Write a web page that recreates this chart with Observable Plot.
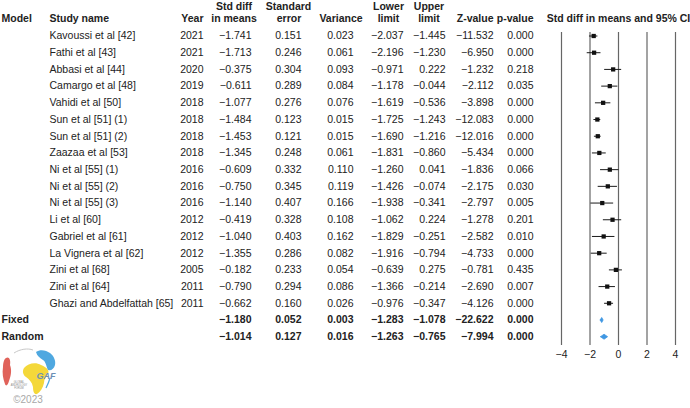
<!DOCTYPE html>
<html>
<head>
<meta charset="utf-8">
<script src="https://cdn.jsdelivr.net/npm/d3@7"></script>
<script src="https://cdn.jsdelivr.net/npm/@observablehq/plot@0.6"></script>
<style>
  html, body { margin: 0; padding: 0; background: #fff; }
  #wrap { position: relative; width: 690px; height: 408px; overflow: hidden; font-family: "Liberation Sans", Arial, sans-serif; }
  #logo { position: absolute; left: 0; top: 346px; }
</style>
</head>
<body>
<div id="wrap">
  <div id="chart"></div>
  <svg id="logo" width="62" height="60" viewBox="0 0 62 60">
    <path d="M6,12 C9,10 11,14 10,19 C12,24 11,30 9,35 C8,39 6,41 5,38 C3,33 2,27 3,21 C3,17 4,13 6,12 Z" fill="#e0625a"/>
    <path d="M24,22 C28,17 36,16 41,19 C46,21 50,24 48,28 C46,31 44,33 44,37 C43,42 40,46 37,48 C34,49 33,45 33,41 C32,36 29,33 26,31 C23,29 22,25 24,22 Z" fill="#f4d83a"/>
    <path d="M36,6 C40,3 46,4 50,7 C54,10 56,15 55,19 C54,23 51,25 48,24 C46,20 46,16 43,14 C40,12 37,10 36,6 Z" fill="#4fa8e0"/>
    <path d="M14,7 C20,3 28,2 33,4" stroke="#c8c8c8" stroke-width="1" fill="none"/>
    <path d="M50,32 C49,36 47,40 46,42" stroke="#4fa8e0" stroke-width="1.2" fill="none"/>
    <text x="46" y="33" text-anchor="middle" font-family="Liberation Sans, Arial, sans-serif" font-size="9" font-weight="bold" font-style="italic" fill="#6b8fb5">GAF</text>
    <text x="19" y="37" text-anchor="middle" font-family="Liberation Sans, Arial, sans-serif" font-size="2.6" fill="#888">GLOBAL</text>
    <text x="19" y="40" text-anchor="middle" font-family="Liberation Sans, Arial, sans-serif" font-size="2.6" fill="#888">ANDROLOGY</text>
    <text x="19" y="43" text-anchor="middle" font-family="Liberation Sans, Arial, sans-serif" font-size="2.6" fill="#888">FORUM</text>
    <text x="28" y="57" text-anchor="middle" font-family="Liberation Sans, Arial, sans-serif" font-size="10" fill="#a8a8a8">©2023</text>
  </svg>
</div>
<script>
// ---- data ----
const studies = [
  "Kavoussi et al [42]", "Fathi et al [43]", "Abbasi et al [44]", "Camargo et al [48]",
  "Vahidi et al [50]", "Sun et al [51] (1)", "Sun et al [51] (2)", "Zaazaa et al [53]",
  "Ni et al [55] (1)", "Ni et al [55] (2)", "Ni et al [55] (3)", "Li et al [60]",
  "Gabriel et al [61]", "La Vignera et al [62]", "Zini et al [68]", "Zini et al [64]",
  "Ghazi and Abdelfattah [65]"
];
const years = [2021, 2021, 2020, 2019, 2018, 2018, 2018, 2018, 2016, 2016, 2016, 2012, 2012, 2012, 2005, 2011, 2011];
const stdDiff = [-1.741, -1.713, -0.375, -0.611, -1.077, -1.484, -1.453, -1.345, -0.609, -0.750, -1.140, -0.419, -1.040, -1.355, -0.182, -0.790, -0.662];
const stdErr = [0.151, 0.246, 0.304, 0.289, 0.276, 0.123, 0.121, 0.248, 0.332, 0.345, 0.407, 0.328, 0.403, 0.286, 0.233, 0.294, 0.160];
const variance = [0.023, 0.061, 0.093, 0.084, 0.076, 0.015, 0.015, 0.061, 0.110, 0.119, 0.166, 0.108, 0.162, 0.082, 0.054, 0.086, 0.026];
const lowerLimit = [-2.037, -2.196, -0.971, -1.178, -1.619, -1.725, -1.690, -1.831, -1.260, -1.426, -1.938, -1.062, -1.829, -1.916, -0.639, -1.366, -0.976];
const upperLimit = [-1.445, -1.230, 0.222, -0.044, -0.536, -1.243, -1.216, -0.860, 0.041, -0.074, -0.341, 0.224, -0.251, -0.794, 0.275, -0.214, -0.347];
const zValue = [-11.532, -6.950, -1.232, -2.112, -3.898, -12.083, -12.016, -5.434, -1.836, -2.175, -2.797, -1.278, -2.582, -4.733, -0.781, -2.690, -4.126];
const pValue = [0.000, 0.000, 0.218, 0.035, 0.000, 0.000, 0.000, 0.000, 0.066, 0.030, 0.005, 0.201, 0.010, 0.000, 0.435, 0.007, 0.000];

const models = ["Fixed", "Random"];
const modelStdDiff = [-1.180, -1.014];
const modelStdErr = [0.052, 0.127];
const modelVariance = [0.003, 0.016];
const modelLower = [-1.283, -1.263];
const modelUpper = [-1.078, -0.765];
const modelZ = [-22.622, -7.994];
const modelP = [0.000, 0.000];

const axisTicks = [-4, -2, 0, 2, 4];
const headerTitle = "Std diff in means and 95% CI";

// ---- build table ----
const f3 = d3.format(".3f");
const rows = studies.map((s, i) => ({
  i, model: "", study: s, year: String(years[i]),
  est: stdDiff[i], se: stdErr[i], v: variance[i], lo: lowerLimit[i], hi: upperLimit[i], z: zValue[i], p: pValue[i],
  bold: false
}));
models.forEach((m, k) => rows.push({
  i: studies.length + k, model: m, study: "", year: "",
  est: modelStdDiff[k], se: modelStdErr[k], v: modelVariance[k], lo: modelLower[k], hi: modelUpper[k], z: modelZ[k], p: modelP[k],
  bold: true
}));
const studyRows = rows.filter(r => !r.bold);
const summaryRows = rows.filter(r => r.bold);

// diamond outlines for the pooled estimates
const halfH = 0.15;
const diamonds = summaryRows.flatMap(r => [
  {m: r.model, x: r.lo, y: r.i},
  {m: r.model, x: r.est, y: r.i - halfH},
  {m: r.model, x: r.hi, y: r.i},
  {m: r.model, x: r.est, y: r.i + halfH},
  {m: r.model, x: r.lo, y: r.i}
]);

// column layout (pixels)
const numCols = [
  {key: "est", right: 251},
  {key: "se", right: 301},
  {key: "v", right: 353},
  {key: "lo", right: 403},
  {key: "hi", right: 445},
  {key: "z", right: 493},
  {key: "p", right: 533}
];
const headerLine2 = [
  {t: "Model", px: 1, a: "start"},
  {t: "Study name", px: 49, a: "start"},
  {t: "Year", px: 203, a: "end"},
  {t: "in means", px: 233.5, a: "middle"},
  {t: "error", px: 288.5, a: "middle"},
  {t: "Variance", px: 340.5, a: "middle"},
  {t: "limit", px: 388, a: "middle"},
  {t: "limit", px: 428.5, a: "middle"},
  {t: "Z-value", px: 493, a: "end"},
  {t: "p-value", px: 533, a: "end"}
];
const headerLine1 = [
  {t: "Std diff", px: 233.5, a: "middle"},
  {t: "Standard", px: 288, a: "middle"},
  {t: "Lower", px: 388, a: "middle"},
  {t: "Upper", px: 428.5, a: "middle"}
];

const FS = 10.5;
const ink = "#222";
const marks = [];

// forest grid
marks.push(Plot.ruleX(axisTicks, {x: d => d, stroke: "#666", strokeWidth: 1.2}));
marks.push(Plot.axisX({ticks: axisTicks, tickSize: 0, tickPadding: 5, tickFormat: d3.format("d"), fontSize: FS, fill: ink}));

// CIs and squares
marks.push(Plot.ruleY(studyRows, {y: "i", x1: "lo", x2: "hi", stroke: "#1a1a1a", strokeWidth: 1}));
marks.push(Plot.dot(studyRows, {x: "est", y: "i", symbol: "square", r: 2.4, fill: "#111", stroke: "none"}));
marks.push(Plot.line(diamonds, {x: "x", y: "y", z: "m", fill: "#3f97e2", stroke: "#3f97e2", strokeWidth: 0.8, curve: "linear"}));

// table text
const txt = (data, opts) => Plot.text(data, {frameAnchor: "left", fontSize: FS, fill: ink, ...opts});
for (const [data, fw] of [[studyRows, "normal"], [summaryRows, "bold"]]) {
  marks.push(txt(data, {y: "i", text: "model", textAnchor: "start", dx: 1, fontWeight: fw}));
  marks.push(txt(data, {y: "i", text: "study", textAnchor: "start", dx: 49, fontWeight: fw}));
  marks.push(txt(data, {y: "i", text: "year", textAnchor: "end", dx: 203, fontWeight: fw}));
  for (const c of numCols) {
    marks.push(txt(data, {y: "i", text: d => f3(d[c.key]), textAnchor: "end", dx: c.right, fontWeight: fw}));
  }
}
// headers
for (const h of headerLine2) {
  marks.push(txt([h], {y: () => -1, text: "t", textAnchor: h.a, dx: h.px, dy: -1, fontWeight: "bold"}));
}
for (const h of headerLine1) {
  marks.push(txt([h], {y: () => -1, text: "t", textAnchor: h.a, dx: h.px, dy: -13, fontWeight: "bold"}));
}
marks.push(Plot.text([headerTitle], {x: () => 0, y: () => -1, text: d => d, textAnchor: "middle", dy: -1, fontSize: FS, fontWeight: "bold", fill: ink}));

const chart = Plot.plot({
  width: 690,
  height: 408,
  marginTop: 32,
  marginBottom: 63,
  marginLeft: 0,
  marginRight: 0,
  x: {domain: [-4, 4], range: [561, 675], axis: null},
  y: {domain: [0, rows.length - 1], range: [35.5, 336.2], axis: null},
  style: {fontFamily: "'Liberation Sans', Arial, sans-serif", fontSize: FS + "px", color: ink, background: "transparent", overflow: "visible"},
  marks
});
document.getElementById("chart").appendChild(chart);
</script>
</body>
</html>
